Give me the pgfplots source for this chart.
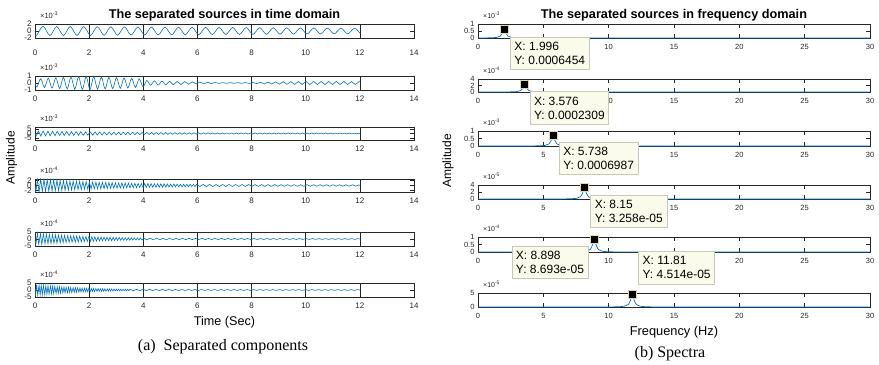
\documentclass[border=0pt]{standalone}
\usepackage{pgfplots}
\pgfplotsset{compat=1.18}
\usepackage{fontspec}
\setmainfont{Liberation Sans}
\newfontfamily\seriffont{Liberation Serif}
\definecolor{mblue}{RGB}{0,114,189}
\definecolor{axgray}{RGB}{38,38,38}
\definecolor{tipfill}{RGB}{251,251,236}
\definecolor{tipdraw}{RGB}{200,200,185}
\definecolor{mkborder}{RGB}{225,215,170}
\tikzset{
 mult/.style={anchor=base west, inner sep=0pt, xshift=5pt, yshift=5pt, text=axgray, font=\fontsize{7.5}{7.5}\selectfont},
 multr/.style={mult, font=\fontsize{7}{7}\selectfont},
 tipbox/.style={draw=tipdraw, fill=tipfill, line width=0.6pt, text=black, align=left, inner xsep=4pt, inner ysep=5pt, font=\fontsize{12}{14}\selectfont},
}
\pgfplotsset{
 set layers,
 base/.style={scale only axis, axis line style={axgray, line width=0.5pt}, tick style={axgray, line width=0.5pt}, tick align=inside, major tick length=4pt},
 tleft/.style={base, width=379pt, xmin=0, xmax=14, xtick={0,2,4,6,8,10,12,14}, xticklabels={0,2,4,6,8,10,12,14}, xmajorgrids, major grid style={axgray, line width=0.5pt}, tick label style={font=\fontsize{8}{8}\selectfont, text=axgray}, xticklabel style={yshift=-2.5pt}},
 tright/.style={base, width=392pt, xmin=0, xmax=30, ymin=0, xtick={0,5,10,15,20,25,30}, xticklabels={0,5,10,15,20,25,30}, clip=false, tick label style={font=\fontsize{7.5}{7.5}\selectfont, text=axgray}, xticklabel style={yshift=-3pt}},
 sig/.style={mblue, line width=0.6pt},
 spec/.style={mblue, line width=0.7pt},
 tipmark/.style={on layer=axis foreground, draw=none, mark=square*, mark size=4pt, mark options={fill=black, draw=mkborder, line width=0.7pt}},
}
\begin{document}
\begin{tikzpicture}
\path (0,0) rectangle (879pt,364pt);
% ---------------- left column: time domain ----------------
\begin{axis}[tleft, name=L1, at={(35pt,326pt)}, anchor=south west, height=14pt, ymin=-2, ymax=2, ytick={-2,0,2}, yticklabels={-2,0,2}, xticklabel style={yshift=-5.5pt}]
\addplot[sig, smooth] coordinates {(0,-1.0) (0.05,-1.35) (0.30,1.34) (0.55,-1.32) (0.80,1.31) (1.05,-1.30) (1.30,1.29) (1.55,-1.28) (1.80,1.26) (2.05,-1.25) (2.30,1.24) (2.55,-1.23) (2.80,1.22) (3.05,-1.21) (3.30,1.19) (3.55,-1.18) (3.80,1.17) (4.05,-1.16) (4.30,1.15) (4.55,-1.13) (4.80,1.12) (5.05,-1.11) (5.30,1.10) (5.55,-1.09) (5.80,1.07) (6.05,-1.06) (6.30,1.05) (6.55,-1.04) (6.80,1.03) (7.05,-1.01) (7.30,1.00) (7.55,-0.99) (7.80,0.98) (8.05,-0.97) (8.30,0.96) (8.55,-0.94) (8.80,0.93) (9.05,-0.92) (9.30,0.91) (9.55,-0.90) (9.80,0.88) (10.05,-0.87) (10.30,0.86) (10.55,-0.85) (10.80,0.84) (11.05,-0.83) (11.30,0.81) (11.55,-0.80) (11.80,0.79) (12.00,-0.60)};
\end{axis}
\node[mult] at (L1.north west) {×10\textsuperscript{-3}};
\begin{axis}[tleft, name=L2, at={(35pt,274pt)}, anchor=south west, height=14pt, ymin=-1, ymax=1, ytick={-1,0,1}, yticklabels={-1,0,1}]
\addplot[sig, smooth] coordinates {(0,0) (0.07,-0.57) (0.21,0.61) (0.35,-0.65) (0.49,0.70) (0.63,-0.73) (0.77,0.75) (0.91,-0.78) (1.05,0.81) (1.19,-0.84) (1.33,0.87) (1.47,-0.89) (1.61,0.90) (1.75,-0.91) (1.89,0.92) (2.03,-0.92) (2.17,0.90) (2.31,-0.88) (2.45,0.86) (2.59,-0.84) (2.73,0.82) (2.87,-0.80) (3.01,0.78) (3.15,-0.76) (3.29,0.73) (3.43,-0.71) (3.57,0.68) (3.71,-0.64) (3.85,0.60) (3.99,-0.55) (4.13,0.35) (4.27,-0.33) (4.41,0.31) (4.55,-0.30) (4.69,0.28) (4.83,-0.27) (4.97,0.25) (5.11,-0.24) (5.25,0.22) (5.39,-0.21) (5.53,0.20) (5.67,-0.18) (5.81,0.17) (5.95,-0.15) (6.09,0.14) (6.23,-0.12) (6.37,0.10) (6.51,-0.08) (6.65,0.07) (6.79,-0.06) (6.93,0.05) (7.07,-0.05) (7.21,0.05) (7.35,-0.04) (7.49,0.04) (7.63,-0.05) (7.77,0.05) (7.91,-0.06) (8.05,0.07) (8.19,-0.08) (8.33,0.10) (8.47,-0.12) (8.61,0.13) (8.75,-0.15) (8.89,0.16) (9.03,-0.17) (9.17,0.18) (9.31,-0.19) (9.45,0.20) (9.59,-0.20) (9.73,0.21) (9.87,-0.21) (10.01,0.22) (10.15,-0.22) (10.29,0.22) (10.43,-0.22) (10.57,0.22) (10.71,-0.22) (10.85,0.22) (10.99,-0.22) (11.13,0.22) (11.27,-0.21) (11.41,0.21) (11.55,-0.21) (11.69,0.20) (11.83,-0.20) (11.97,0.20) (12,0.18)};
\end{axis}
\node[mult] at (L2.north west) {×10\textsuperscript{-3}};
\begin{axis}[tleft, name=L3, at={(35pt,224pt)}, anchor=south west, height=13pt, ymin=-7, ymax=7, ytick={-5,0,5}, yticklabels={-5,0,5}]
\addplot[sig] coordinates {(0,0) (0.04,-2.78) (0.13,2.72) (0.21,-2.67) (0.30,2.62) (0.39,-2.56) (0.48,2.51) (0.56,-2.47) (0.65,2.42) (0.74,-2.38) (0.82,2.34) (0.91,-2.29) (1.00,2.25) (1.08,-2.21) (1.17,2.16) (1.26,-2.12) (1.35,2.07) (1.43,-2.03) (1.52,1.99) (1.61,-1.96) (1.69,1.92) (1.78,-1.89) (1.87,1.85) (1.95,-1.82) (2.04,1.79) (2.13,-1.75) (2.22,1.72) (2.30,-1.69) (2.39,1.66) (2.48,-1.63) (2.56,1.60) (2.65,-1.57) (2.74,1.54) (2.82,-1.51) (2.91,1.48) (3.00,-1.45) (3.09,1.42) (3.17,-1.40) (3.26,1.37) (3.35,-1.35) (3.43,1.32) (3.52,-1.30) (3.61,1.27) (3.69,-1.25) (3.78,1.22) (3.87,-1.20) (3.96,1.17) (4.04,-1.15) (4.13,1.13) (4.22,-1.11) (4.30,1.09) (4.39,-1.07) (4.48,1.05) (4.56,-1.03) (4.65,1.01) (4.74,-0.99) (4.83,0.97) (4.91,-0.95) (5.00,0.93) (5.09,-0.91) (5.17,0.90) (5.26,-0.88) (5.35,0.86) (5.43,-0.84) (5.52,0.83) (5.61,-0.81) (5.70,0.80) (5.78,-0.78) (5.87,0.77) (5.96,-0.75) (6.04,0.74) (6.13,-0.73) (6.22,0.71) (6.30,-0.70) (6.39,0.69) (6.48,-0.67) (6.57,0.66) (6.65,-0.65) (6.74,0.63) (6.83,-0.62) (6.91,0.61) (7.00,-0.60) (7.09,0.60) (7.17,-0.59) (7.26,0.59) (7.35,-0.59) (7.44,0.58) (7.52,-0.58) (7.61,0.58) (7.70,-0.57) (7.78,0.57) (7.87,-0.57) (7.96,0.57) (8.04,-0.56) (8.13,0.56) (8.22,-0.56) (8.31,0.55) (8.39,-0.55) (8.48,0.55) (8.57,-0.54) (8.65,0.54) (8.74,-0.54) (8.83,0.53) (8.91,-0.53) (9.00,0.53) (9.09,-0.52) (9.18,0.52) (9.26,-0.52) (9.35,0.52) (9.44,-0.51) (9.52,0.51) (9.61,-0.51) (9.70,0.50) (9.78,-0.50) (9.87,0.50) (9.96,-0.49) (10.05,0.49) (10.13,-0.49) (10.22,0.48) (10.31,-0.48) (10.39,0.48) (10.48,-0.47) (10.57,0.47) (10.65,-0.47) (10.74,0.47) (10.83,-0.46) (10.92,0.46) (11.00,-0.46) (11.09,0.45) (11.18,-0.45) (11.26,0.45) (11.35,-0.44) (11.44,0.44) (11.52,-0.44) (11.61,0.43) (11.70,-0.43) (11.79,0.43) (11.87,-0.42) (11.96,0.42) (12,0)};
\end{axis}
\node[mult] at (L3.north west) {×10\textsuperscript{-3}};
\begin{axis}[tleft, name=L4, at={(35pt,172pt)}, anchor=south west, height=13pt, ymin=-2.5, ymax=2.5, ytick={-2,0,2}, yticklabels={-2,0,2}]
\addplot[sig] coordinates {(0,0) (0.03,-2.58) (0.09,2.53) (0.15,-2.49) (0.21,2.44) (0.27,-2.40) (0.33,2.36) (0.39,-2.32) (0.45,2.28) (0.51,-2.24) (0.57,2.20) (0.63,-2.16) (0.69,2.12) (0.75,-2.08) (0.81,2.05) (0.87,-2.01) (0.93,1.97) (0.99,-1.94) (1.05,1.90) (1.11,-1.87) (1.17,1.84) (1.23,-1.81) (1.29,1.77) (1.35,-1.74) (1.41,1.71) (1.47,-1.68) (1.53,1.65) (1.59,-1.62) (1.65,1.59) (1.71,-1.56) (1.77,1.53) (1.83,-1.50) (1.89,1.48) (1.95,-1.45) (2.01,1.43) (2.07,-1.40) (2.13,1.38) (2.19,-1.35) (2.25,1.33) (2.31,-1.30) (2.37,1.28) (2.43,-1.26) (2.49,1.23) (2.55,-1.21) (2.61,1.19) (2.67,-1.17) (2.73,1.15) (2.79,-1.13) (2.85,1.11) (2.91,-1.09) (2.97,1.07) (3.03,-1.05) (3.09,1.03) (3.15,-1.01) (3.21,0.99) (3.27,-0.98) (3.33,0.96) (3.39,-0.94) (3.45,0.93) (3.51,-0.91) (3.57,0.89) (3.63,-0.88) (3.69,0.86) (3.75,-0.85) (3.81,0.83) (3.87,-0.82) (3.93,0.80) (3.99,-0.79) (4.05,0.77) (4.11,-0.76) (4.17,0.74) (4.23,-0.73) (4.29,0.72) (4.35,-0.70) (4.41,0.69) (4.47,-0.68) (4.53,0.66) (4.59,-0.65) (4.65,0.64) (4.71,-0.63) (4.77,0.62) (4.83,-0.61) (4.89,0.60) (4.95,-0.59) (5.01,0.58) (5.07,-0.57) (5.13,0.56) (5.19,-0.55) (5.25,0.54) (5.31,-0.53) (5.37,0.52) (5.43,-0.51) (5.49,0.50) (5.55,-0.49) (5.61,0.48) (5.67,-0.47) (5.73,0.46) (5.79,-0.45) (5.85,0.45) (5.91,-0.44) (5.97,0.43) (6.09,-0.42) (6.21,0.41) (6.33,-0.41) (6.45,0.41) (6.57,-0.40) (6.69,0.40) (6.81,-0.40) (6.93,0.39) (7.05,-0.39) (7.17,0.39) (7.29,-0.38) (7.41,0.38) (7.53,-0.38) (7.65,0.37) (7.77,-0.37) (7.89,0.37) (8.01,-0.36) (8.13,0.36) (8.25,-0.36) (8.37,0.35) (8.49,-0.35) (8.61,0.35) (8.73,-0.34) (8.85,0.34) (8.97,-0.34) (9.09,0.33) (9.21,-0.33) (9.33,0.33) (9.45,-0.32) (9.57,0.32) (9.69,-0.32) (9.81,0.31) (9.93,-0.31) (10.05,0.31) (10.17,-0.30) (10.29,0.30) (10.41,-0.30) (10.53,0.29) (10.65,-0.29) (10.77,0.29) (10.89,-0.28) (11.01,0.28) (11.13,-0.28) (11.25,0.27) (11.37,-0.27) (11.49,0.27) (11.61,-0.26) (11.73,0.26) (11.85,-0.26) (11.97,0.25) (12,0)};
\end{axis}
\node[mult] at (L4.north west) {×10\textsuperscript{-4}};
\begin{axis}[tleft, name=L5, at={(35pt,118pt)}, anchor=south west, height=14pt, ymin=-5, ymax=5, ytick={-5,0,5}, yticklabels={-5,0,5}]
\addplot[sig] coordinates {(0,0) (0.03,-4.14) (0.09,4.03) (0.14,-3.94) (0.20,3.84) (0.25,-3.75) (0.31,3.65) (0.37,-3.56) (0.42,3.48) (0.48,-3.38) (0.53,3.31) (0.59,-3.22) (0.65,3.13) (0.70,-3.07) (0.76,2.98) (0.81,-2.92) (0.87,2.84) (0.93,-2.76) (0.98,2.70) (1.04,-2.63) (1.09,2.57) (1.15,-2.50) (1.21,2.44) (1.26,-2.38) (1.32,2.32) (1.37,-2.27) (1.43,2.21) (1.49,-2.15) (1.54,2.10) (1.60,-2.04) (1.65,2.00) (1.71,-1.95) (1.77,1.89) (1.82,-1.85) (1.88,1.80) (1.93,-1.76) (1.99,1.72) (2.05,-1.67) (2.10,1.63) (2.16,-1.59) (2.21,1.55) (2.27,-1.51) (2.33,1.47) (2.38,-1.44) (2.44,1.40) (2.49,-1.37) (2.55,1.33) (2.61,-1.30) (2.66,1.27) (2.72,-1.23) (2.77,1.21) (2.83,-1.18) (2.89,1.14) (2.94,-1.12) (3.00,1.09) (3.05,-1.06) (3.11,1.04) (3.17,-1.01) (3.22,0.99) (3.28,-0.96) (3.33,0.94) (3.39,-0.91) (3.45,0.89) (3.50,-0.87) (3.56,0.85) (3.61,-0.83) (3.67,0.80) (3.73,-0.78) (3.78,0.77) (3.84,-0.75) (3.89,0.73) (3.95,-0.71) (4.01,0.69) (4.13,-0.66) (4.25,0.64) (4.37,-0.62) (4.49,0.60) (4.61,-0.58) (4.73,0.55) (4.85,-0.53) (4.97,0.51) (5.09,-0.49) (5.21,0.48) (5.33,-0.47) (5.45,0.46) (5.57,-0.45) (5.69,0.45) (5.81,-0.44) (5.93,0.43) (6.05,-0.42) (6.17,0.42) (6.29,-0.41) (6.41,0.41) (6.53,-0.40) (6.65,0.40) (6.77,-0.40) (6.89,0.39) (7.01,-0.39) (7.13,0.39) (7.25,-0.38) (7.37,0.38) (7.49,-0.38) (7.61,0.37) (7.73,-0.37) (7.85,0.37) (7.97,-0.36) (8.09,0.36) (8.21,-0.36) (8.33,0.35) (8.45,-0.35) (8.57,0.35) (8.69,-0.35) (8.81,0.34) (8.93,-0.34) (9.05,0.34) (9.17,-0.34) (9.29,0.33) (9.41,-0.33) (9.53,0.33) (9.65,-0.33) (9.77,0.32) (9.89,-0.32) (10.01,0.32) (10.13,-0.32) (10.25,0.32) (10.37,-0.31) (10.49,0.31) (10.61,-0.31) (10.73,0.31) (10.85,-0.31) (10.97,0.31) (11.09,-0.30) (11.21,0.30) (11.33,-0.30) (11.45,0.30) (11.57,-0.30) (11.69,0.30) (11.81,-0.30) (11.93,0.30) (12,0)};
\end{axis}
\node[mult] at (L5.north west) {×10\textsuperscript{-4}};
\begin{axis}[tleft, name=L6, at={(35pt,67pt)}, anchor=south west, height=14pt, ymin=-5, ymax=5, ytick={-5,0,5}, yticklabels={-5,0,5}]
\addplot[sig] coordinates {(0,0) (0.02,-3.95) (0.06,3.86) (0.10,-3.76) (0.15,3.66) (0.19,-3.57) (0.23,3.48) (0.27,-3.40) (0.31,3.31) (0.36,-3.23) (0.40,3.15) (0.44,-3.07) (0.48,3.00) (0.52,-2.92) (0.57,2.85) (0.61,-2.78) (0.65,2.71) (0.69,-2.64) (0.73,2.58) (0.78,-2.51) (0.82,2.45) (0.86,-2.39) (0.90,2.33) (0.94,-2.27) (0.99,2.22) (1.03,-2.16) (1.07,2.11) (1.11,-2.05) (1.15,2.00) (1.20,-1.95) (1.24,1.90) (1.28,-1.86) (1.32,1.81) (1.36,-1.76) (1.41,1.72) (1.45,-1.68) (1.49,1.64) (1.53,-1.60) (1.57,1.56) (1.62,-1.52) (1.66,1.48) (1.70,-1.44) (1.74,1.41) (1.78,-1.37) (1.83,1.34) (1.87,-1.30) (1.91,1.27) (1.95,-1.24) (1.99,1.21) (2.04,-1.18) (2.08,1.15) (2.12,-1.12) (2.16,1.09) (2.20,-1.07) (2.25,1.04) (2.29,-1.01) (2.33,0.99) (2.37,-0.96) (2.41,0.94) (2.46,-0.92) (2.50,0.89) (2.54,-0.87) (2.58,0.85) (2.62,-0.83) (2.67,0.81) (2.71,-0.79) (2.75,0.77) (2.79,-0.75) (2.83,0.73) (2.88,-0.71) (2.92,0.70) (2.96,-0.68) (3.00,0.66) (3.04,-0.65) (3.09,0.63) (3.13,-0.61) (3.17,0.60) (3.21,-0.58) (3.25,0.57) (3.30,-0.55) (3.34,0.54) (3.38,-0.53) (3.42,0.51) (3.46,-0.50) (3.51,0.49) (3.63,-0.47) (3.75,0.46) (3.87,-0.45) (3.99,0.44) (4.11,-0.43) (4.23,0.42) (4.35,-0.42) (4.47,0.41) (4.59,-0.40) (4.71,0.40) (4.83,-0.39) (4.95,0.38) (5.07,-0.38) (5.19,0.37) (5.31,-0.37) (5.43,0.36) (5.55,-0.36) (5.67,0.36) (5.79,-0.35) (5.91,0.35) (6.03,-0.35) (6.15,0.34) (6.27,-0.34) (6.39,0.34) (6.51,-0.34) (6.63,0.33) (6.75,-0.33) (6.87,0.33) (6.99,-0.33) (7.11,0.33) (7.23,-0.32) (7.35,0.32) (7.47,-0.32) (7.59,0.32) (7.71,-0.32) (7.83,0.32) (7.95,-0.32) (8.07,0.31) (8.19,-0.31) (8.31,0.31) (8.43,-0.31) (8.55,0.31) (8.67,-0.31) (8.79,0.31) (8.91,-0.31) (9.03,0.31) (9.15,-0.31) (9.27,0.31) (9.39,-0.31) (9.51,0.31) (9.63,-0.31) (9.75,0.31) (9.87,-0.31) (9.99,0.31) (10.11,-0.30) (10.23,0.30) (10.35,-0.30) (10.47,0.30) (10.59,-0.30) (10.71,0.30) (10.83,-0.30) (10.95,0.30) (11.07,-0.30) (11.19,0.30) (11.31,-0.30) (11.43,0.30) (11.55,-0.30) (11.67,0.30) (11.79,-0.30) (11.91,0.30) (12,0)};
\end{axis}
\node[mult] at (L6.north west) {×10\textsuperscript{-4}};
% ---------------- right column: spectra ----------------
\begin{axis}[tright, name=R1, at={(478pt,326pt)}, anchor=south west, height=14pt, ymax=1, ytick={0,0.5,1}, yticklabels={0,0.5,1}]
\addplot[spec] coordinates {(0,0.0036) (0.496,0.0064) (0.996,0.0142) (1.396,0.038) (1.696,0.129) (1.846,0.323) (1.926,0.529) (1.996,0.6454) (2.066,0.529) (2.146,0.323) (2.296,0.129) (2.596,0.038) (2.996,0.0142) (3.496,0.0064) (3.996,0.0036) (4.996,0.0016) (10,0.0003) (30,0.0001)};
\addplot[tipmark] coordinates {(1.996,0.6454)} node[tipbox, anchor=north west, xshift=6pt, yshift=-8pt] {X: 1.996\\Y: 0.0006454};
\end{axis}
\node[multr] at (R1.north west) {×10\textsuperscript{-3}};
\begin{axis}[tright, name=R2, at={(478pt,272pt)}, anchor=south west, height=13pt, ymax=4, ytick={0,2,4}, yticklabels={0,2,4}]
\addplot[spec] coordinates {(0,0.004) (0.576,0.0058) (1.576,0.0129) (2.076,0.0229) (2.576,0.0508) (2.976,0.136) (3.276,0.462) (3.426,1.155) (3.506,1.893) (3.576,2.309) (3.646,1.893) (3.726,1.155) (3.876,0.462) (4.176,0.136) (4.576,0.0508) (5.076,0.0229) (5.576,0.0129) (6.576,0.0058) (10,0.0012) (30,0.0002)};
\addplot[tipmark] coordinates {(3.576,2.309)} node[tipbox, anchor=north west, xshift=5pt, yshift=-7pt] {X: 3.576\\Y: 0.0002309};
\end{axis}
\node[multr] at (R2.north west) {×10\textsuperscript{-4}};
\begin{axis}[tright, name=R3, at={(478pt,218pt)}, anchor=south west, height=15pt, ymax=1, ytick={0,0.5,1}, yticklabels={0,0.5,1}]
\addplot[spec] coordinates {(0,0.0005) (2.738,0.0017) (3.738,0.0039) (4.238,0.0069) (4.738,0.0154) (5.138,0.0412) (5.438,0.1397) (5.588,0.3494) (5.668,0.5729) (5.738,0.6987) (5.808,0.5729) (5.888,0.3494) (6.038,0.1397) (6.338,0.0412) (6.738,0.0154) (7.238,0.0069) (7.738,0.0039) (8.738,0.0017) (12,0.0004) (30,0.0001)};
\addplot[tipmark] coordinates {(5.738,0.6987)} node[tipbox, anchor=north west, xshift=6pt, yshift=-6pt] {X: 5.738\\Y: 0.0006987};
\end{axis}
\node[multr] at (R3.north west) {×10\textsuperscript{-3}};
\begin{axis}[tright, name=R4, at={(478pt,165pt)}, anchor=south west, height=14pt, ymax=4, ytick={0,2,4}, yticklabels={0,2,4}]
\addplot[spec] coordinates {(0,0.0011) (5.15,0.0081) (6.15,0.0182) (6.65,0.0323) (7.15,0.0717) (7.55,0.1922) (7.85,0.6516) (8.0,1.629) (8.08,2.672) (8.15,3.258) (8.22,2.672) (8.3,1.629) (8.45,0.6516) (8.75,0.1922) (9.15,0.0717) (9.65,0.0323) (10.15,0.0182) (11.15,0.0081) (15,0.0015) (30,0.0003)};
\addplot[tipmark] coordinates {(8.15,3.258)} node[tipbox, anchor=north west, xshift=6pt, yshift=-7pt] {X: 8.15\\Y: 3.258e-05};
\end{axis}
\node[multr] at (R4.north west) {×10\textsuperscript{-5}};
\begin{axis}[tright, name=R5, at={(478pt,112pt)}, anchor=south west, height=15pt, ymax=1, ytick={0,0.5,1}, yticklabels={0,0.5,1}]
\addplot[spec] coordinates {(0,0.0003) (5.898,0.0022) (6.898,0.0049) (7.398,0.0086) (7.898,0.0191) (8.298,0.0513) (8.598,0.1739) (8.748,0.4347) (8.828,0.7128) (8.898,0.8693) (8.968,0.7128) (9.048,0.4347) (9.198,0.1739) (9.498,0.0513) (9.898,0.0191) (10.398,0.0086) (10.898,0.0049) (11.898,0.0022) (15,0.0006) (30,0.0001)};
\addplot[tipmark] coordinates {(8.898,0.8693)} node[tipbox, anchor=north east, xshift=-6pt, yshift=-7pt] {X: 8.898\\Y: 8.693e-05};
\end{axis}
\node[multr] at (R5.north west) {×10\textsuperscript{-4}};
\begin{axis}[tright, name=R6, at={(478pt,57pt)}, anchor=south west, height=14pt, ymax=5, ytick={0,5}, yticklabels={0,5}]
\addplot[spec] coordinates {(0,0.0007) (8.81,0.0113) (9.81,0.0253) (10.31,0.0447) (10.81,0.0993) (11.21,0.2663) (11.51,0.9028) (11.66,2.257) (11.74,3.701) (11.81,4.514) (11.88,3.701) (11.96,2.257) (12.11,0.9028) (12.41,0.2663) (12.81,0.0993) (13.31,0.0447) (13.81,0.0253) (14.81,0.0113) (18,0.002) (30,0.0005)};
\addplot[tipmark] coordinates {(11.81,4.514)} node[tipbox, anchor=south west, xshift=6pt, yshift=10pt] {X: 11.81\\Y: 4.514e-05};
\end{axis}
\node[multr] at (R6.north west) {×10\textsuperscript{-5}};
% ---------------- titles and labels ----------------
\node[anchor=base, font=\fontsize{12.7}{13}\selectfont\bfseries] at (224.5pt,345pt) {The separated sources in time domain};
\node[anchor=base, font=\fontsize{12.7}{13}\selectfont\bfseries] at (674pt,345pt) {The separated sources in frequency domain};
\node[anchor=base, font=\fontsize{12.6}{13}\selectfont] at (224.5pt,38pt) {Time (Sec)};
\node[anchor=base, font=\fontsize{12.8}{13}\selectfont] at (674pt,29pt) {Frequency (Hz)};
\node[rotate=90, font=\fontsize{12}{12}\selectfont] at (11.5pt,206pt) {Amplitude};
\node[rotate=90, font=\fontsize{12}{12}\selectfont] at (448pt,203pt) {Amplitude};
\node[anchor=base, font=\seriffont\fontsize{16}{16}\selectfont] at (223pt,14pt) {(a)\enspace Separated components};
\node[anchor=base, font=\seriffont\fontsize{16}{16}\selectfont] at (670pt,6.3pt) {(b) Spectra};
\end{tikzpicture}
\end{document}
